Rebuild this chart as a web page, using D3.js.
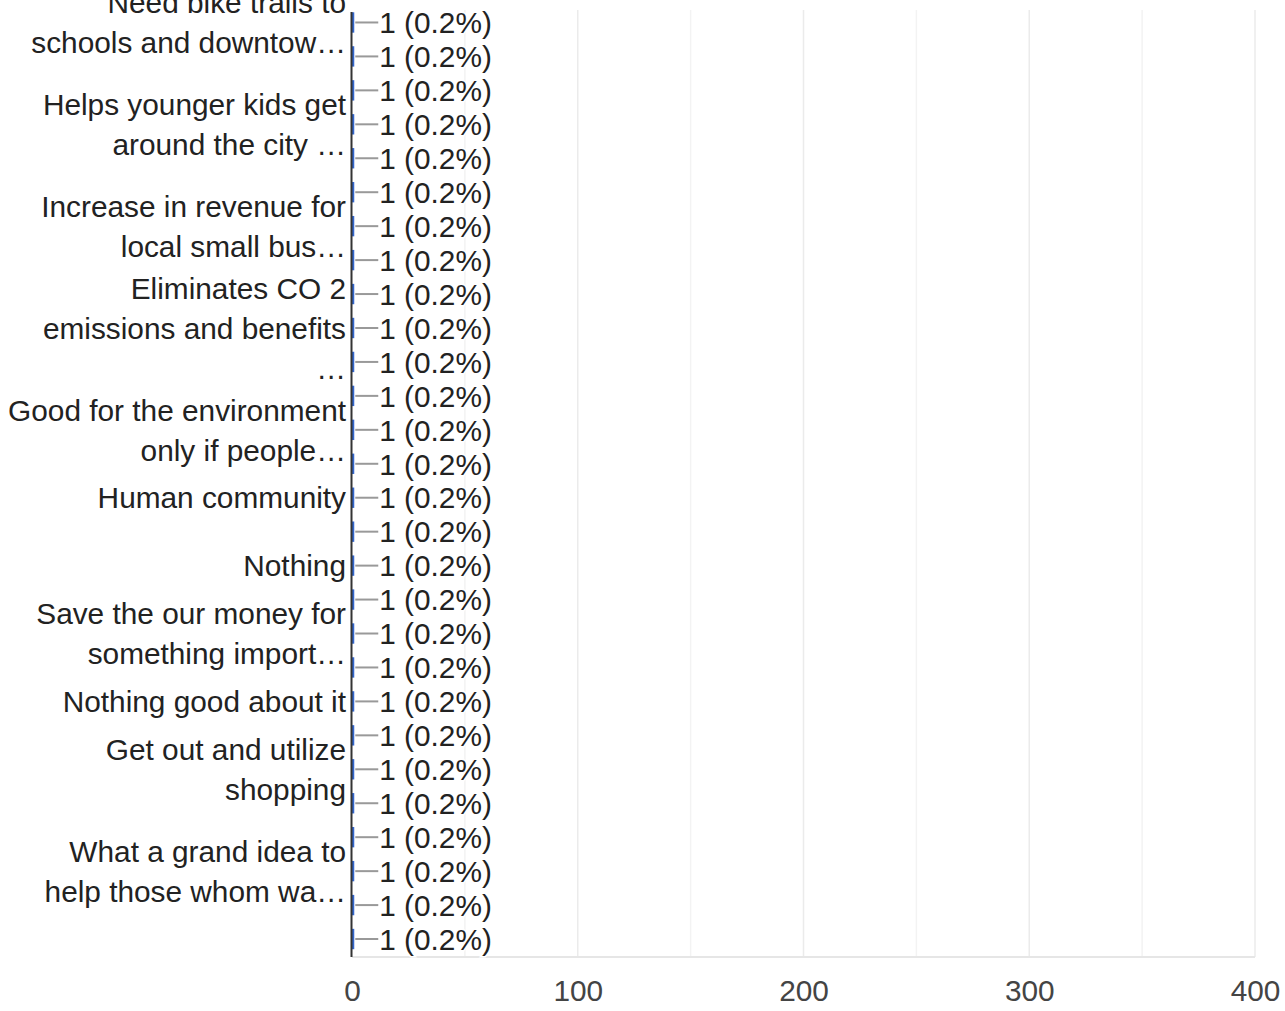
<!DOCTYPE html>
<html>
<head>
<meta charset="utf-8">
<title>Responses</title>
<script src="https://d3js.org/d3.v7.min.js"></script>
<style>
  body { margin: 0; background: #fff; }
  svg text { font-family: Arial, "Liberation Sans", sans-serif; }
</style>
</head>
<body>
<svg width="1285" height="1011"></svg>
<script>
// one row per answer; "" = label skipped by the chart, "\n" = line break
var categories = [
  "Need bike trails to\nschools and downtow\u2026", "", "",
  "Helps younger kids get\naround the city \u2026", "", "",
  "Increase in revenue for\nlocal small bus\u2026", "", "",
  "Eliminates CO 2\nemissions and benefits\n\u2026", "", "",
  "Good for the environment\nonly if people\u2026", "",
  "Human community", "",
  "Nothing", "",
  "Save the our money for\nsomething import\u2026", "",
  "Nothing good about it", "",
  "Get out and utilize\nshopping", "", "",
  "What a grand idea to\nhelp those whom wa\u2026", "", ""
];
var values   = [1,1,1,1,1,1,1,1,1,1,1,1,1,1,1,1,1,1,1,1,1,1,1,1,1,1,1,1];
var percents = [0.2,0.2,0.2,0.2,0.2,0.2,0.2,0.2,0.2,0.2,0.2,0.2,0.2,0.2,
                0.2,0.2,0.2,0.2,0.2,0.2,0.2,0.2,0.2,0.2,0.2,0.2,0.2,0.2];
var xTicks = [0, 100, 200, 300, 400];
var xMinor = [50, 150, 250, 350];

var svg = d3.select("svg");
var fs = 29.8;

var x = d3.scaleLinear().domain([0, 400]).range([352, 1255]);
var y = d3.scaleBand().domain(d3.range(categories.length)).range([5.5, 956]).paddingInner(0.4).paddingOuter(0.2);
var rowY = function(i){ return y(i) + y.bandwidth() / 2; };
var plotTop = 10, plotBottom = 957;

// gridlines
svg.append("g").selectAll("line").data(xMinor).enter().append("line")
  .attr("x1", d => x(d)).attr("x2", d => x(d))
  .attr("y1", plotTop).attr("y2", plotBottom)
  .attr("stroke", "#f3f3f3").attr("stroke-width", 1.5);
svg.append("g").selectAll("line").data(xTicks.slice(1)).enter().append("line")
  .attr("x1", d => x(d)).attr("x2", d => x(d))
  .attr("y1", plotTop).attr("y2", plotBottom)
  .attr("stroke", "#ebebeb").attr("stroke-width", 1.5);
svg.append("line")
  .attr("x1", x(0)).attr("x2", x(400))
  .attr("y1", plotBottom).attr("y2", plotBottom)
  .attr("stroke", "#e6e6e6").attr("stroke-width", 2);

// bars
svg.append("g").selectAll("rect").data(values).enter().append("rect")
  .attr("x", x(0))
  .attr("y", (d, i) => y(i))
  .attr("width", d => x(d) - x(0))
  .attr("height", y.bandwidth())
  .attr("fill", "#3366cc");

// leader lines + value labels
svg.append("g").selectAll("line").data(values).enter().append("line")
  .attr("x1", d => x(d) + 1).attr("x2", d => x(d) + 24)
  .attr("y1", (d, i) => rowY(i)).attr("y2", (d, i) => rowY(i))
  .attr("stroke", "#999").attr("stroke-width", 2);
svg.append("g").selectAll("text").data(values).enter().append("text")
  .attr("x", d => x(d) + 25)
  .attr("y", (d, i) => rowY(i))
  .attr("dy", "0.36em")
  .attr("font-size", fs)
  .attr("fill", "#222")
  .attr("stroke", "#fff").attr("stroke-width", 3).attr("paint-order", "stroke")
  .text((d, i) => d + " (" + percents[i] + "%)");

// vertical axis line
svg.append("line")
  .attr("x1", x(0) - 0.5).attr("x2", x(0) - 0.5)
  .attr("y1", 12).attr("y2", plotBottom)
  .attr("stroke", "#333").attr("stroke-width", 2);

// category labels
var lab = svg.append("g").selectAll("text").data(categories).enter().append("text")
  .attr("text-anchor", "end")
  .attr("font-size", fs)
  .attr("fill", "#222")
  .attr("y", (d, i) => rowY(i));
lab.each(function(d, i){
  var lines = d ? d.split("\n") : [];
  var t = d3.select(this);
  lines.forEach(function(s, k){
    t.append("tspan").attr("x", 346)
      .attr("y", rowY(i) + (k - (lines.length - 1) / 2) * 40)
      .attr("dy", "0.36em")
      .text(s);
  });
});

// x axis tick labels
var xAxis = d3.axisBottom(x).tickValues(xTicks).tickSize(0).tickPadding(0);
var xg = svg.append("g").attr("transform", "translate(0," + plotBottom + ")").call(xAxis);
xg.select(".domain").remove();
xg.selectAll("text")
  .attr("font-size", fs)
  .attr("font-family", null)
  .attr("fill", "#444")
  .attr("dy", null)
  .attr("y", 44);
</script>
</body>
</html>
